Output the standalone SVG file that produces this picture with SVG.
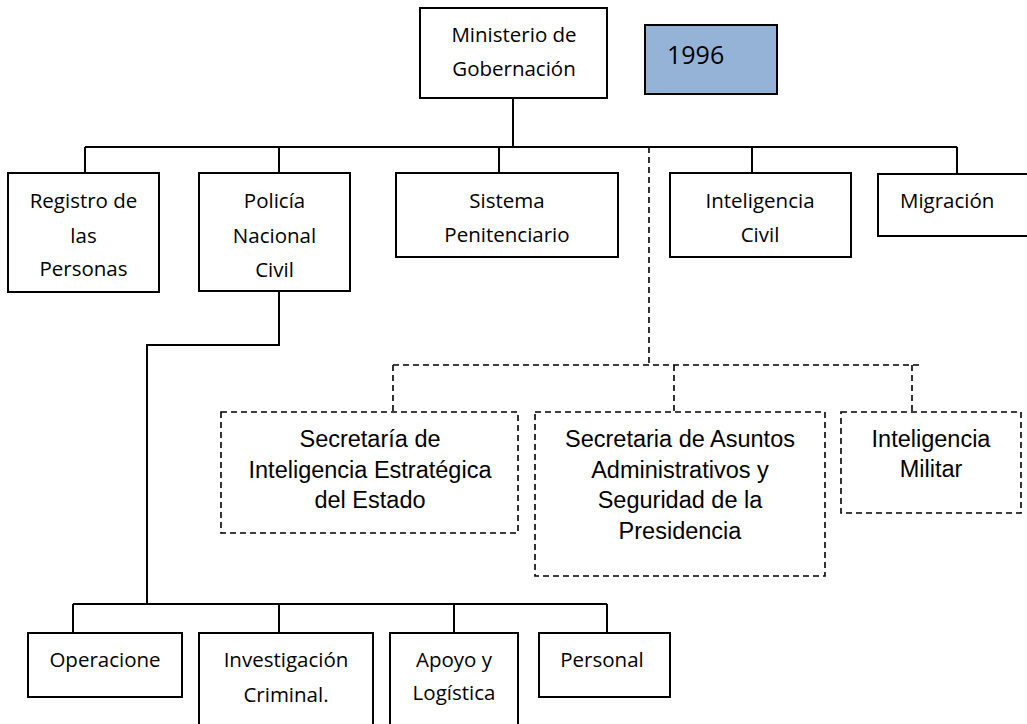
<svg xmlns="http://www.w3.org/2000/svg" width="1027" height="724" viewBox="0 0 1027 724">
<style>
.box{fill:#fff;stroke:#000;stroke-width:2}
.dbox{fill:#fff;stroke:#000;stroke-width:1.6;stroke-dasharray:6 4}
.c{fill:none;stroke:#000;stroke-width:2}
.d{fill:none;stroke:#000;stroke-width:1.6;stroke-dasharray:6 4}
.t{font-family:"Open Sans","DejaVu Sans",sans-serif;font-size:20.5px;fill:#000;text-anchor:middle}
.ts{font-family:"Open Sans","DejaVu Sans",sans-serif;font-size:20.5px;fill:#000}
.a{font-family:"Liberation Sans",Arial,sans-serif;font-size:23.5px;fill:#000;text-anchor:middle}
</style>
<rect width="1027" height="724" fill="#fff"/>
<g id="connectors">
<path class="c" d="M513,98 V147 M85,147 H957 M85,147 V173 M279,147 V173 M499,147 V173 M752,147 V173 M957,147 V174"/>
<path class="c" d="M279,291 V345 H147 V604 M73,604 H607 M73,604 V633 M279,604 V633 M454,604 V633 M607,604 V633"/>
<path class="d" d="M649,147 V365 M393,365 H923 M393,365 V412 M674,365 V412 M912,365 V412"/>
</g>
<g id="ministerio">
<rect class="box" x="420" y="8" width="187" height="90"/>
<text class="t" x="514" y="42">Ministerio de</text>
<text class="t" x="514" y="76">Gobernación</text>
</g>
<g id="year">
<rect x="645" y="25" width="132" height="69" fill="#95B3D7" stroke="#000" stroke-width="2"/>
<text class="ts" x="667" y="64" style="font-size:25px">1996</text>
</g>
<g id="registro">
<rect class="box" x="8" y="173" width="151" height="119"/>
<text class="t" x="83.5" y="208">Registro de</text>
<text class="t" x="83.5" y="243">las</text>
<text class="t" x="83.5" y="276">Personas</text>
</g>
<g id="policia">
<rect class="box" x="199" y="173" width="151" height="118"/>
<text class="t" x="274.5" y="208">Policía</text>
<text class="t" x="274.5" y="243">Nacional</text>
<text class="t" x="274.5" y="277">Civil</text>
</g>
<g id="sistema">
<rect class="box" x="396" y="173" width="222" height="84"/>
<text class="t" x="507" y="208">Sistema</text>
<text class="t" x="507" y="242">Penitenciario</text>
</g>
<g id="inteligencia-civil">
<rect class="box" x="670" y="173" width="181" height="84"/>
<text class="t" x="760" y="208">Inteligencia</text>
<text class="t" x="760" y="242">Civil</text>
</g>
<g id="migracion">
<rect class="box" x="878" y="174" width="160" height="62"/>
<text class="ts" x="900" y="208">Migración</text>
</g>
<g id="sie">
<rect class="dbox" x="221" y="412" width="297" height="121"/>
<text class="a" x="370" y="447">Secretaría de</text>
<text class="a" x="370" y="478">Inteligencia Estratégica</text>
<text class="a" x="370" y="508">del Estado</text>
</g>
<g id="saas">
<rect class="dbox" x="535" y="412" width="290" height="164"/>
<text class="a" x="680" y="447">Secretaria de Asuntos</text>
<text class="a" x="680" y="478">Administrativos y</text>
<text class="a" x="680" y="508">Seguridad de la</text>
<text class="a" x="680" y="539">Presidencia</text>
</g>
<g id="inteligencia-militar">
<rect class="dbox" x="841" y="412" width="180" height="101"/>
<text class="a" x="931" y="447">Inteligencia</text>
<text class="a" x="931" y="477">Militar</text>
</g>
<g id="operaciones">
<rect class="box" x="28" y="633" width="154" height="64"/>
<text class="t" x="105" y="667">Operacione</text>
</g>
<g id="investigacion">
<rect class="box" x="199" y="633" width="174" height="100"/>
<text class="t" x="286" y="667">Investigación</text>
<text class="t" x="286" y="702">Criminal.</text>
</g>
<g id="apoyo">
<rect class="box" x="390" y="633" width="128" height="100"/>
<text class="t" x="454" y="667">Apoyo y</text>
<text class="t" x="454" y="700">Logística</text>
</g>
<g id="personal">
<rect class="box" x="539" y="633" width="131" height="64"/>
<text class="t" x="602" y="667">Personal</text>
</g>
</svg>
